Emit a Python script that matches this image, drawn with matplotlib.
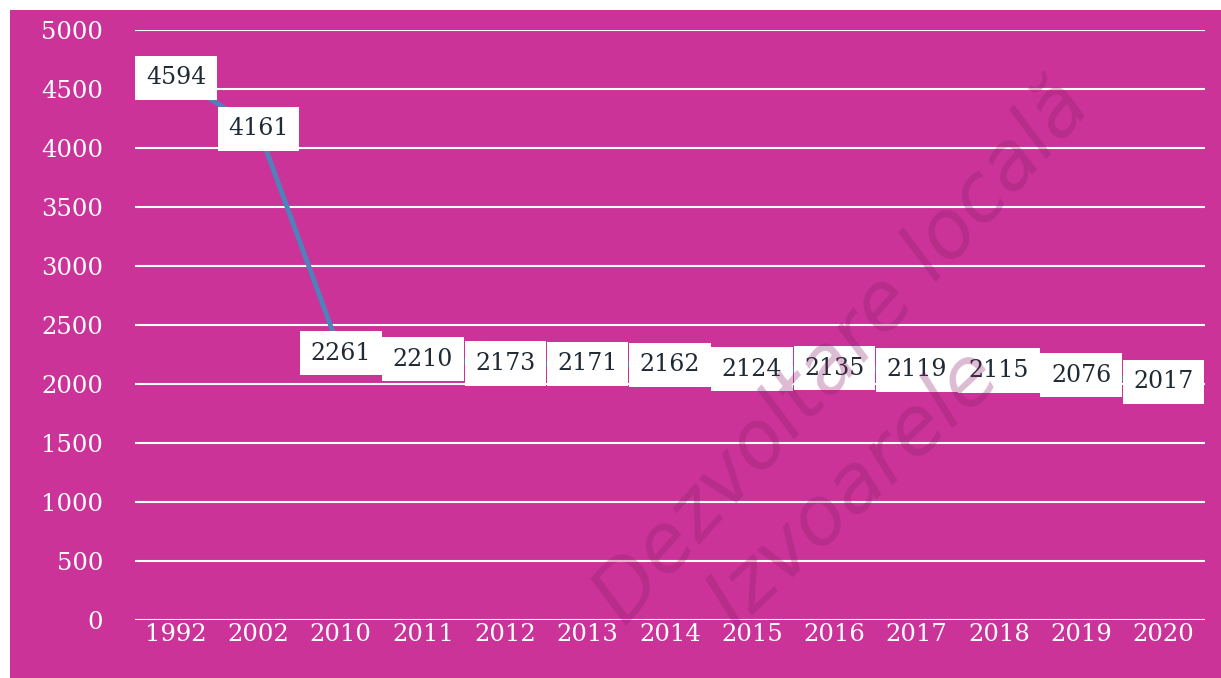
import matplotlib.pyplot as plt

years = ["1992", "2002", "2010", "2011", "2012", "2013", "2014",
         "2015", "2016", "2017", "2018", "2019", "2020"]
population = [4594, 4161, 2261, 2210, 2173, 2171, 2162,
              2124, 2135, 2119, 2115, 2076, 2017]
y_ticks = [0, 500, 1000, 1500, 2000, 2500, 3000, 3500, 4000, 4500, 5000]

bg = "#CB3399"

fig = plt.figure(figsize=(12.21, 6.78), dpi=100)
fig.patch.set_facecolor("white")
# magenta panel with thin white border at left/top
fig.patches.append(plt.Rectangle((0.008, 0), 0.992, 0.985, transform=fig.transFigure,
                                 facecolor=bg, edgecolor="none", zorder=-10))
ax = fig.add_axes([0.1106, 0.0855, 0.876, 0.8703])
ax.set_facecolor(bg)

x = list(range(len(years)))
ax.plot(x, population, color="#4F81BD", linewidth=3.5, zorder=3)

for i, v in enumerate(population):
    ax.text(i, v, str(v), ha="center", va="center", fontsize=17,
            family="DejaVu Serif", color="#1F2A35", zorder=4,
            bbox=dict(boxstyle="square,pad=0.45", facecolor="white", edgecolor="none"))

ax.set_xlim(-0.5, len(years) - 0.5)
ax.set_ylim(0, 5000)
ax.set_yticks(y_ticks)
ax.set_xticks(x)
ax.set_xticklabels(years)
ax.yaxis.grid(True, color="white", linewidth=1.5)
ax.set_axisbelow(True)
for s in ax.spines.values():
    s.set_visible(False)
ax.tick_params(length=0, colors="white", labelsize=17.5)
for lab in ax.get_xticklabels() + ax.get_yticklabels():
    lab.set_family("DejaVu Serif")
ax.tick_params(axis="y", pad=23)
ax.tick_params(axis="x", pad=2)

# watermark
fig.text(0.69, 0.48, "Dezvoltare locală", rotation=48, fontsize=58, style="italic",
         color="#8A1F68", alpha=0.3, ha="center", va="center", family="DejaVu Sans")
fig.text(0.70, 0.28, "Izvoarele", rotation=43, fontsize=58, style="italic",
         color="#8A1F68", alpha=0.3, ha="center", va="center", family="DejaVu Sans")

fig.savefig("out.png", dpi=100, facecolor=fig.get_facecolor())
